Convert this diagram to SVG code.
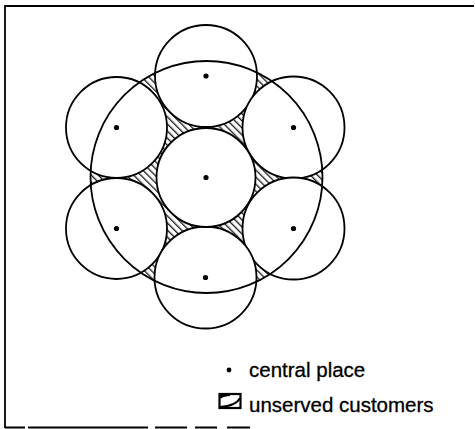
<svg xmlns="http://www.w3.org/2000/svg" width="475" height="429" viewBox="0 0 475 429">
<style>
.c{fill:#fff;stroke:#000;stroke-width:1.8}
.dot{fill:#000}
.frame{stroke:#000;stroke-width:1.8;fill:none}
.lbl{font-family:"Liberation Sans",Arial,sans-serif;font-size:20.5px;fill:#000;stroke:#000;stroke-width:0.3}
</style>
<defs>
<pattern id="hatch" patternUnits="userSpaceOnUse" width="5" height="5" patternTransform="rotate(-45)">
<rect width="5" height="5" fill="#fff"/>
<line x1="0.7" y1="0" x2="0.7" y2="5" stroke="#000" stroke-width="1.2"/>
</pattern>
</defs>
<g id="frame">
<line class="frame" x1="5" y1="6" x2="474" y2="6"/>
<line class="frame" x1="5" y1="5" x2="5" y2="428"/>
<path class="frame" d="M5 427.5H25M28 427.5H148M155 427.5H187M195 427.5H217M227 427.5H250"/>
</g>
<g id="market-area">
<circle cx="206.5" cy="177" r="116" fill="url(#hatch)"/>
</g>
<g id="place-top"><circle class="c" cx="206" cy="76" r="51"/><circle class="dot" cx="206" cy="76" r="2.6"/></g>
<g id="place-upper-left"><circle class="c" cx="116.5" cy="127.5" r="50.5"/><circle class="dot" cx="116.5" cy="127.5" r="2.6"/></g>
<g id="place-upper-right"><circle class="c" cx="293.5" cy="127.5" r="51"/><circle class="dot" cx="293.5" cy="127.5" r="2.6"/></g>
<g id="place-lower-left"><circle class="c" cx="116.5" cy="228.5" r="50.5"/><circle class="dot" cx="116.5" cy="228.5" r="2.6"/></g>
<g id="place-lower-right"><circle class="c" cx="293.5" cy="228.5" r="51"/><circle class="dot" cx="293.5" cy="228.5" r="2.6"/></g>
<g id="place-bottom"><circle class="c" cx="205.5" cy="277.5" r="51"/><circle class="dot" cx="205.5" cy="277.5" r="2.6"/></g>
<g id="place-center"><circle class="c" cx="206" cy="177.5" r="49.5"/><circle class="dot" cx="206" cy="177.5" r="2.6"/></g>
<g id="market-outline">
<circle cx="206.5" cy="177" r="116" fill="none" stroke="#000" stroke-width="1.8"/>
</g>
<g id="legend">
<circle class="dot" cx="229" cy="370" r="2.4"/>
<text class="lbl" x="249" y="377">central place</text>
<rect x="219.5" y="394" width="21" height="14" fill="#fff" stroke="#000" stroke-width="2.2"/>
<path d="M220 398 Q224 395 230 395 M220 407 Q236 406 240 398" fill="none" stroke="#000" stroke-width="1.8"/>
<path d="M220 395 L225 395 Q221 396 220 399 Z" fill="#000"/>
<text class="lbl" x="249" y="411.5">unserved customers</text>
</g>
</svg>
